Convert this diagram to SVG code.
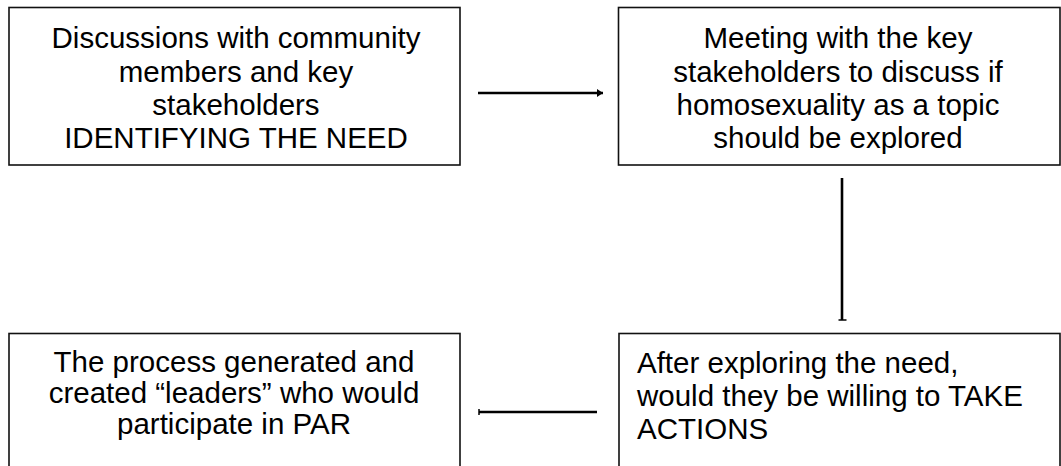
<svg xmlns="http://www.w3.org/2000/svg" width="1061" height="466" viewBox="0 0 1061 466">
<style>
.box{fill:#fff;stroke:#111;stroke-width:1.6}
.t{font-family:"Liberation Sans",Arial,sans-serif;font-size:29.5px;fill:#000}
.c{text-anchor:middle}
.conn{stroke:#000;stroke-width:2.6;fill:none}
</style>
<defs>
<marker id="ah" viewBox="0 0 6 8" refX="6" refY="4" markerWidth="6" markerHeight="8" markerUnits="userSpaceOnUse" orient="auto">
<path d="M0,0 L6,4 L0,8 Z" fill="#000"/>
</marker>
</defs>
<rect width="1061" height="466" fill="#fff"/>
<g id="node1">
<rect class="box" x="9" y="7.5" width="451" height="157.5"/>
<text class="t c" x="236" y="48">Discussions with community</text>
<text class="t c" x="236" y="82">members and key</text>
<text class="t c" x="236" y="115">stakeholders</text>
<text class="t c" x="236" y="148">IDENTIFYING THE NEED</text>
</g>
<g id="node2">
<rect class="box" x="618.5" y="7.5" width="441.5" height="157.5"/>
<text class="t c" x="838" y="48">Meeting with the key</text>
<text class="t c" x="838" y="82">stakeholders to discuss if</text>
<text class="t c" x="838" y="115">homosexuality as a topic</text>
<text class="t c" x="838" y="148">should be explored</text>
</g>
<g id="node3">
<rect class="box" x="9" y="333.5" width="451" height="140"/>
<text class="t c" x="234" y="372">The process generated and</text>
<text class="t c" x="234" y="403">created “leaders” who would</text>
<text class="t c" x="234" y="434">participate in PAR</text>
</g>
<g id="node4">
<rect class="box" x="619" y="333.5" width="441" height="140"/>
<text class="t" x="637" y="373">After exploring the need,</text>
<text class="t" x="637" y="406">would they be willing to TAKE</text>
<text class="t" x="637" y="439">ACTIONS</text>
</g>
<g id="connectors">
<line class="conn" x1="478" y1="93" x2="603" y2="93" marker-end="url(#ah)"/>
<line class="conn" x1="842" y1="178" x2="842" y2="320"/>
<line x1="838.5" y1="320" x2="846.5" y2="320" stroke="#000" stroke-width="1.5"/>
<line class="conn" x1="479" y1="412" x2="597" y2="412"/>
<line x1="479" y1="409" x2="479" y2="415" stroke="#000" stroke-width="1.5"/>
</g>
</svg>
